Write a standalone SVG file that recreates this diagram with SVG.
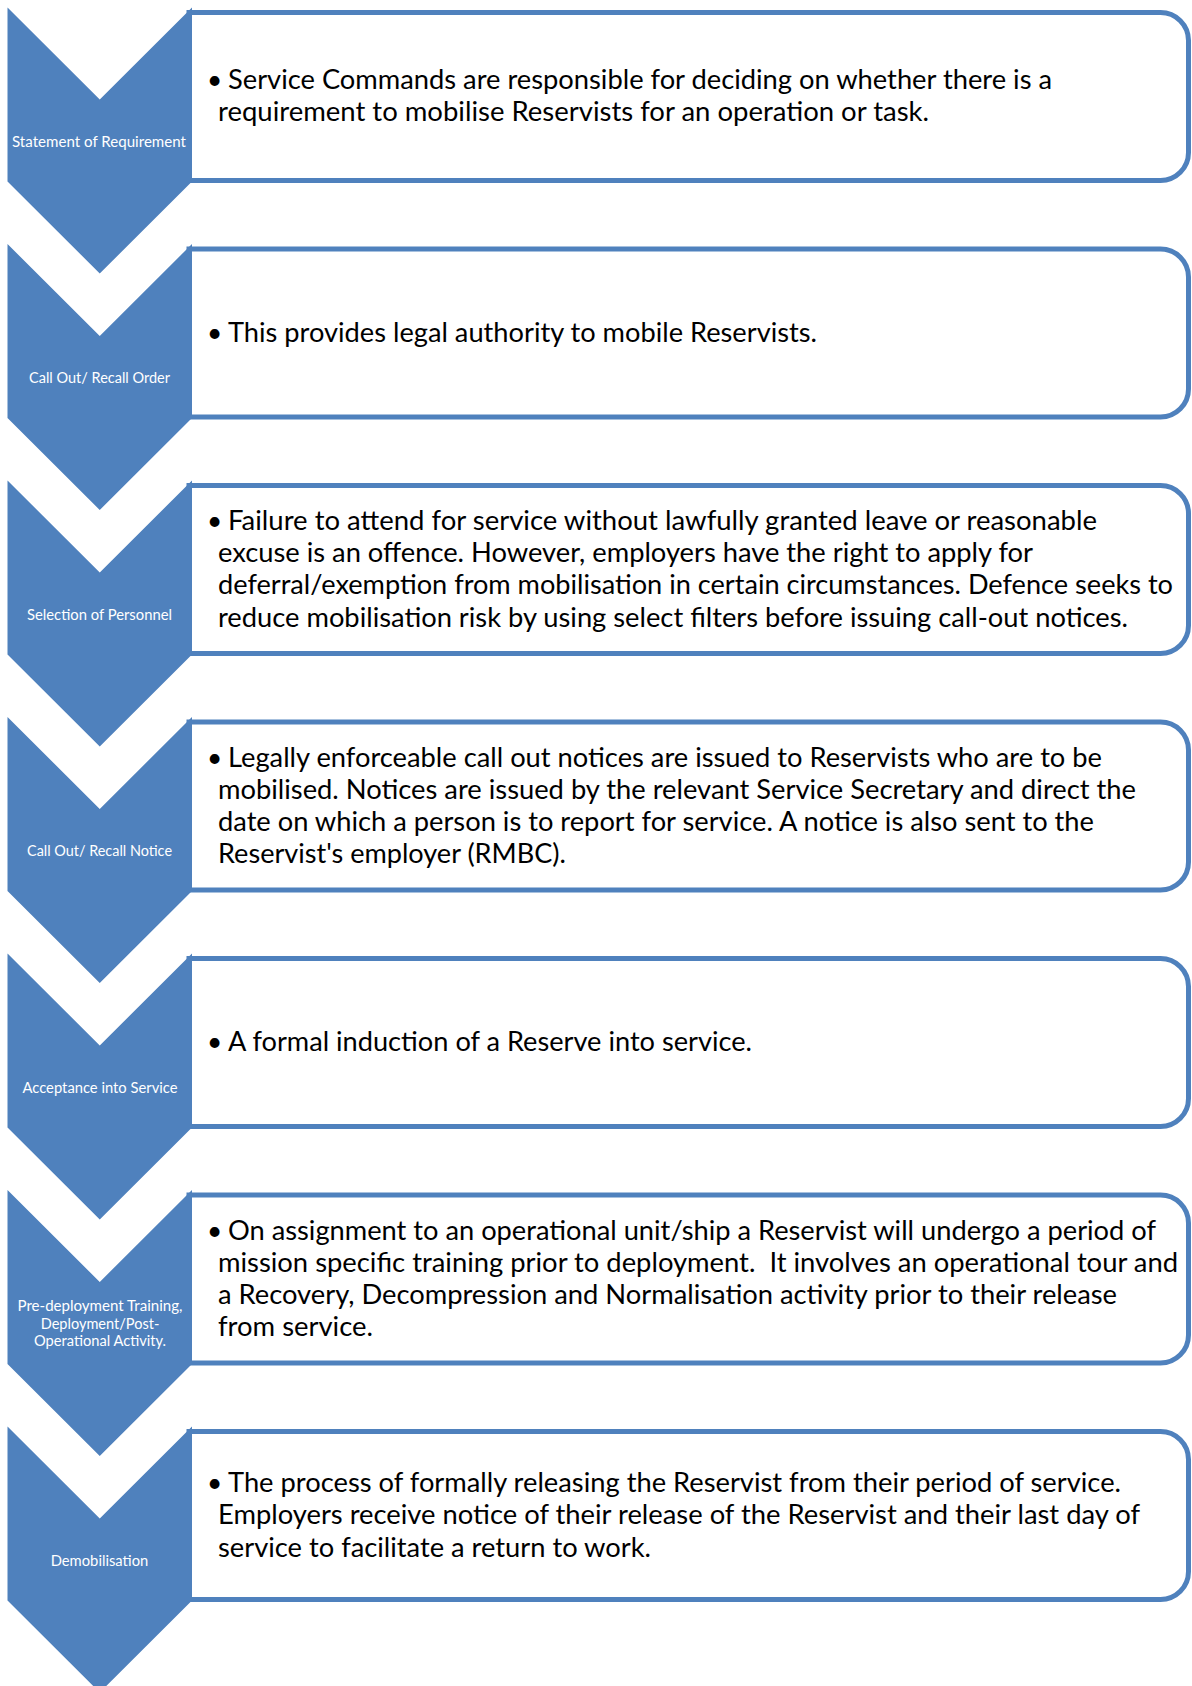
<svg xmlns="http://www.w3.org/2000/svg" width="1192" height="1686" viewBox="0 0 1192 1686">
<style>
.box{fill:#ffffff;stroke:#4F81BD;stroke-width:5}
.chev{fill:#4F81BD;stroke:none}
.lbl{font-family:Lato,"Open Sans",sans-serif;font-size:14.6px;fill:#ffffff;text-anchor:middle}
.txt{font-family:Lato,"Open Sans",sans-serif;font-size:26.3px;fill:#000000;white-space:pre}
</style>
<defs>
<path id="boxShape" class="box" d="M189,5 H1160.5 A28,28 0 0 1 1188.5,33 V145 A28,28 0 0 1 1160.5,173 H189 Z"/>
<path id="chevShape" class="chev" d="M7.5,0 L99.75,92 L192,0 L192,174 L99.75,266 L7.5,174 Z"/>
</defs>
<g id="connectors"></g>

<g id="node1" transform="translate(0,7.5)">
<use href="#boxShape"/>
<use href="#chevShape"/>
<text class="lbl" x="99" y="139.3" textLength="174" lengthAdjust="spacingAndGlyphs">Statement of Requirement</text>
<text class="txt" x="207" y="81.7">•</text>
<text class="txt" x="228" y="81.7" textLength="824" lengthAdjust="spacingAndGlyphs">Service Commands are responsible for deciding on whether there is a</text>
<text class="txt" x="218" y="113.9" textLength="711" lengthAdjust="spacingAndGlyphs">requirement to mobilise Reservists for an operation or task.</text>
</g>

<g id="node2" transform="translate(0,244)">
<use href="#boxShape"/>
<use href="#chevShape"/>
<text class="lbl" x="99.5" y="139.3" textLength="141" lengthAdjust="spacingAndGlyphs">Call Out/ Recall Order</text>
<text class="txt" x="207" y="97.8">•</text>
<text class="txt" x="228" y="97.8" textLength="589" lengthAdjust="spacingAndGlyphs">This provides legal authority to mobile Reservists.</text>
</g>

<g id="node3" transform="translate(0,480.5)">
<use href="#boxShape"/>
<use href="#chevShape"/>
<text class="lbl" x="99.5" y="139.3" textLength="145" lengthAdjust="spacingAndGlyphs">Selection of Personnel</text>
<text class="txt" x="207" y="49.5">•</text>
<text class="txt" x="228" y="49.5" textLength="869" lengthAdjust="spacingAndGlyphs">Failure to attend for service without lawfully granted leave or reasonable</text>
<text class="txt" x="218" y="81.7" textLength="815" lengthAdjust="spacingAndGlyphs">excuse is an offence. However, employers have the right to apply for</text>
<text class="txt" x="218" y="113.9" textLength="955" lengthAdjust="spacingAndGlyphs">deferral/exemption from mobilisation in certain circumstances. Defence seeks to</text>
<text class="txt" x="218" y="146.1" textLength="910" lengthAdjust="spacingAndGlyphs">reduce mobilisation risk by using select filters before issuing call-out notices.</text>
</g>

<g id="node4" transform="translate(0,717)">
<use href="#boxShape"/>
<use href="#chevShape"/>
<text class="lbl" x="99.5" y="139.3" textLength="145" lengthAdjust="spacingAndGlyphs">Call Out/ Recall Notice</text>
<text class="txt" x="207" y="49.5">•</text>
<text class="txt" x="228" y="49.5" textLength="874" lengthAdjust="spacingAndGlyphs">Legally enforceable call out notices are issued to Reservists who are to be</text>
<text class="txt" x="218" y="81.7" textLength="918" lengthAdjust="spacingAndGlyphs">mobilised. Notices are issued by the relevant Service Secretary and direct the</text>
<text class="txt" x="218" y="113.9" textLength="876" lengthAdjust="spacingAndGlyphs">date on which a person is to report for service. A notice is also sent to the</text>
<text class="txt" x="218" y="146.1" textLength="348" lengthAdjust="spacingAndGlyphs">Reservist's employer (RMBC).</text>
</g>

<g id="node5" transform="translate(0,953.5)">
<use href="#boxShape"/>
<use href="#chevShape"/>
<text class="lbl" x="100" y="139.3" textLength="155" lengthAdjust="spacingAndGlyphs">Acceptance into Service</text>
<text class="txt" x="207" y="97.8">•</text>
<text class="txt" x="228" y="97.8" textLength="524" lengthAdjust="spacingAndGlyphs">A formal induction of a Reserve into service.</text>
</g>

<g id="node6" transform="translate(0,1190)">
<use href="#boxShape"/>
<use href="#chevShape"/>
<text class="lbl" x="100" y="121.3" textLength="165" lengthAdjust="spacingAndGlyphs">Pre-deployment Training,</text>
<text class="lbl" x="100" y="138.8" textLength="118.6" lengthAdjust="spacingAndGlyphs">Deployment/Post-</text>
<text class="lbl" x="100" y="156.3" textLength="132" lengthAdjust="spacingAndGlyphs">Operational Activity.</text>
<text class="txt" x="207" y="49.5">•</text>
<text class="txt" x="228" y="49.5" textLength="928" lengthAdjust="spacingAndGlyphs">On assignment to an operational unit/ship a Reservist will undergo a period of</text>
<text class="txt" x="218" y="81.7" textLength="960" lengthAdjust="spacingAndGlyphs">mission specific training prior to deployment.  It involves an operational tour and</text>
<text class="txt" x="218" y="113.9" textLength="899" lengthAdjust="spacingAndGlyphs">a Recovery, Decompression and Normalisation activity prior to their release</text>
<text class="txt" x="218" y="146.1" textLength="155" lengthAdjust="spacingAndGlyphs">from service.</text>
</g>

<g id="node7" transform="translate(0,1426.5)">
<use href="#boxShape"/>
<use href="#chevShape"/>
<text class="lbl" x="99.5" y="139.3" textLength="97.6" lengthAdjust="spacingAndGlyphs">Demobilisation</text>
<text class="txt" x="207" y="65.6">•</text>
<text class="txt" x="228" y="65.6" textLength="893" lengthAdjust="spacingAndGlyphs">The process of formally releasing the Reservist from their period of service.</text>
<text class="txt" x="218" y="97.8" textLength="922" lengthAdjust="spacingAndGlyphs">Employers receive notice of their release of the Reservist and their last day of</text>
<text class="txt" x="218" y="130" textLength="433" lengthAdjust="spacingAndGlyphs">service to facilitate a return to work.</text>
</g>
</svg>
